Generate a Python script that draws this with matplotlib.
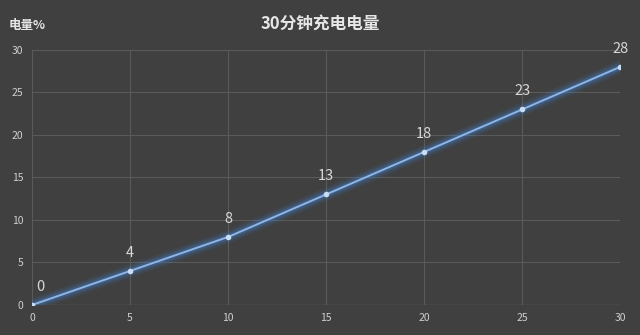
import matplotlib
matplotlib.use("Agg")
import matplotlib.pyplot as plt

plt.rcParams['font.family'] = ['Noto Sans CJK SC', 'DejaVu Sans']

minutes = [0, 5, 10, 15, 20, 25, 30]
charge = [0, 4, 8, 13, 18, 23, 28]
xticks = [0, 5, 10, 15, 20, 25, 30]
yticks = [0, 5, 10, 15, 20, 25, 30]

bg = '#404040'
fig = plt.figure(figsize=(6.4, 3.35), dpi=100, facecolor=bg)
ax = fig.add_axes([0.05, 0.0896, 0.919, 0.7614])
ax.set_facecolor(bg)
ax.set_xlim(0, 30)
ax.set_ylim(0, 30)
ax.set_xticks(xticks)
ax.set_yticks(yticks)
ax.grid(True, color='#5a5a5a', linewidth=0.8)
ax.set_axisbelow(True)
for s in ax.spines.values():
    s.set_visible(False)
ax.axhline(0, color='#6a6a6a', linewidth=0.9, zorder=1)
ax.tick_params(length=0, colors='#d0d0d0', labelsize=7.5, pad=6)

# glow
for w, a in [(10, 0.06), (8, 0.08), (6, 0.12), (4, 0.2)]:
    ax.plot(minutes, charge, color='#3f86e0', linewidth=w, alpha=a,
            solid_capstyle='round', zorder=2)
ax.plot(minutes, charge, color='#8db6e6', linewidth=1.4, zorder=3)
ax.plot(minutes, charge, linestyle='none', marker='o', markersize=3,
        color='#c8dcf4', zorder=4)

for x, y in zip(minutes, charge):
    dx = 6 if x == 0 else 0
    ax.annotate(str(y), (x, y), xytext=(dx, 8),
                textcoords='offset points', ha='center', va='bottom',
                color='#d8d8d8', fontsize=10.5, clip_on=False)

fig.text(0.5, 0.93, '30分钟充电电量', ha='center', va='center',
         color='#e6e6e6', fontsize=12, fontweight='bold')
fig.text(0.013, 0.925, '电量%', ha='left', va='center',
         color='#e6e6e6', fontsize=9, fontweight='bold')

fig.savefig('out.png', dpi=100, facecolor=bg)
